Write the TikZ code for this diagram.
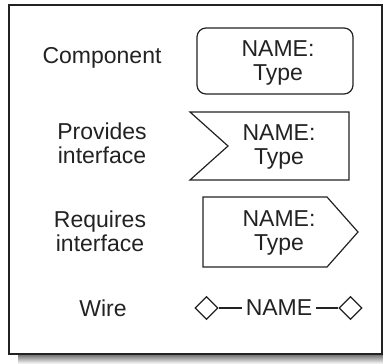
\documentclass[tikz,border=0pt]{standalone}
\usepackage{fontspec}
\setmainfont{Liberation Sans}
\usetikzlibrary{shapes.geometric}
\definecolor{ink}{HTML}{222222}
\definecolor{shade}{HTML}{B4B4BA}
\begin{document}
\begin{tikzpicture}[x=1pt,y=-1pt,
  txt/.style={font=\fontsize{23}{24}\selectfont, text=ink, align=center, inner sep=0pt},
  shapeline/.style={draw=ink, line width=1.2pt, line join=miter},
  wirediamond/.style={diamond, draw=ink, line width=1.2pt, minimum width=23pt, minimum height=23pt, inner sep=0pt},
  wireline/.style={draw=ink, line width=1.2pt}]
\useasboundingbox (0,0) rectangle (383,364);
% frame and shadow
\fill[shade] (18,355.5) rectangle (383,364);
\draw[ink, line width=1.7pt] (8.7,5.2) rectangle (381.8,354.3);
% labels
\node[txt] (complbl) at (102,58.2) {Component};
\node[txt] (provlbl) at (102,143.4) {Provides\\interface};
\node[txt] (reqlbl) at (100,231) {Requires\\interface};
\node[txt] (wirelbl) at (103,308) {Wire};
% component
\draw[shapeline, rounded corners=9pt] (197,28) rectangle (353,94);
\node[txt] (compname) at (278,63.2) {NAME:\\Type};
% provides interface
\draw[shapeline] (190,112) -- (349,112) -- (349,180) -- (190,180) -- (228,146) -- cycle;
\node[txt] (provname) at (279,147.2) {NAME:\\Type};
% requires interface
\draw[shapeline] (203,197) -- (327,197) -- (358,232) -- (327,267) -- (203,267) -- cycle;
\node[txt] (reqname) at (279,233.2) {NAME:\\Type};
% wire
\node[wirediamond] (dl) at (206.5,308) {};
\node[wirediamond] (dr) at (350.5,308) {};
\node[txt, inner xsep=4pt] (wname) at (279,308) {NAME};
\draw[wireline] (dl) -- (wname);
\draw[wireline] (wname) -- (dr);
\end{tikzpicture}
\end{document}
